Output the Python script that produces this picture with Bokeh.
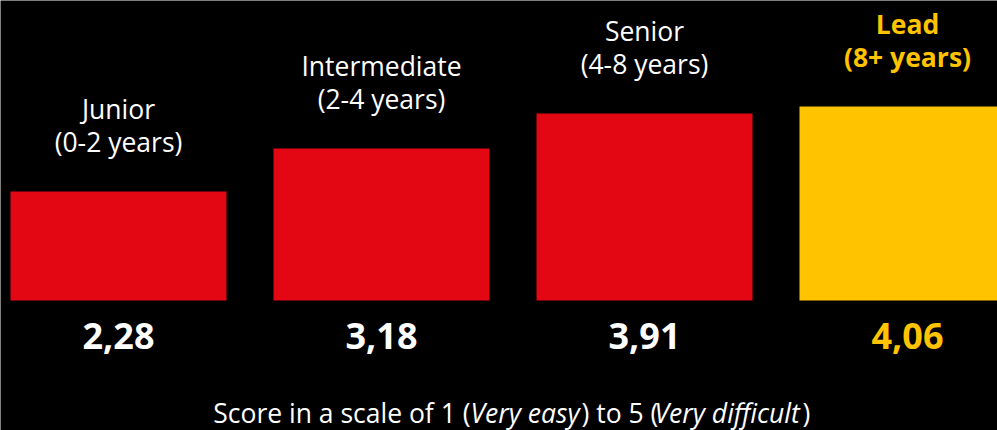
from bokeh.plotting import figure
from bokeh.models import Range1d, Label, ColumnDataSource
from bokeh.embed import file_html
from bokeh.resources import INLINE
from bokeh.core.properties import value

# ---- data ----
levels = ["Junior", "Intermediate", "Senior", "Lead"]
experience = ["(0-2 years)", "(2-4 years)", "(4-8 years)", "(8+ years)"]
scores = [2.28, 3.18, 3.91, 4.06]
score_labels = ["2,28", "3,18", "3,91", "4,06"]
highlight = [False, False, False, True]

caption_parts = ["Score in a scale of 1 (", "Very easy", ") to 5 (", "Very difficult", ")"]
caption_italic = [False, True, False, True, False]
caption_align = ["right", "left", "left", "left", "left"]
caption_x_px = [470, 470, 581, 654, 802]

# ---- layout ----
W, H = 997, 430
RED = "#E30613"
GOLD = "#FFC300"
WHITE = "#FFFFFF"
FONT = "Open Sans"
LABEL_FS = 26.5
VALUE_FS = 36
BASE_FIX = 0.42  # renderer baseline correction (fraction of font size)

step_px = 263.0
first_center_px = 118.0
bar_width_px = 216.0
base_px = 300.0
px_per_unit = 47.8

x_start = -first_center_px / step_px
x_end = x_start + W / step_px
y_end = base_px / px_per_unit
y_start = y_end - H / px_per_unit

def dy(px):
    return px / px_per_unit

xs = list(range(len(levels)))

def rows(flag):
    idx = [i for i in xs if highlight[i] == flag]
    lab_fix = BASE_FIX * LABEL_FS
    val_fix = BASE_FIX * VALUE_FS
    return ColumnDataSource(dict(
        x=[xs[i] for i in idx],
        score=[scores[i] for i in idx],
        level=[levels[i] for i in idx],
        exp=[experience[i] for i in idx],
        lab=[score_labels[i] for i in idx],
        y1=[scores[i] + dy(71 + lab_fix) for i in idx],
        y2=[scores[i] + dy(38 + lab_fix) for i in idx],
        yv=[-dy(351 - base_px - val_fix) for i in idx],
    ))

p = figure(width=W, height=H, output_backend="svg", toolbar_location=None,
           x_range=Range1d(x_start, x_end), y_range=Range1d(y_start, y_end),
           min_border=0, min_border_left=0, min_border_right=0,
           min_border_top=0, min_border_bottom=0)
p.background_fill_color = "black"
p.border_fill_color = "black"
p.outline_line_color = None
p.xaxis.visible = False
p.yaxis.visible = False
p.xgrid.visible = False
p.ygrid.visible = False

for flag, color, style in [(False, RED, "normal"), (True, GOLD, "bold")]:
    src = rows(flag)
    tcolor = GOLD if flag else WHITE
    p.vbar(x="x", top="score", bottom=0, width=bar_width_px / step_px,
           fill_color=color, line_color=None, source=src)
    p.text(x="x", y="y1", text="level", source=src, text_align="center",
           text_baseline="alphabetic", text_font=value(FONT),
           text_font_size=f"{LABEL_FS}px", text_font_style=style, text_color=tcolor)
    p.text(x="x", y="y2", text="exp", source=src, text_align="center",
           text_baseline="alphabetic", text_font=value(FONT),
           text_font_size=f"{LABEL_FS}px", text_font_style=style, text_color=tcolor)
    p.text(x="x", y="yv", text="lab", source=src, text_align="center",
           text_baseline="alphabetic", text_font=value(FONT),
           text_font_size=f"{VALUE_FS}px", text_font_style="bold", text_color=tcolor)

cap_baseline_px = 424 - BASE_FIX * LABEL_FS
for part, ital, al, xp in zip(caption_parts, caption_italic, caption_align, caption_x_px):
    p.add_layout(Label(x=xp, y=H - cap_baseline_px, x_units="screen", y_units="screen",
                       text=part, text_font=FONT, text_font_size=f"{LABEL_FS}px",
                       text_font_style="italic" if ital else "normal",
                       text_color=WHITE, text_align=al,
                       text_baseline="alphabetic"))

open("out.html", "w").write(file_html(p, INLINE))
